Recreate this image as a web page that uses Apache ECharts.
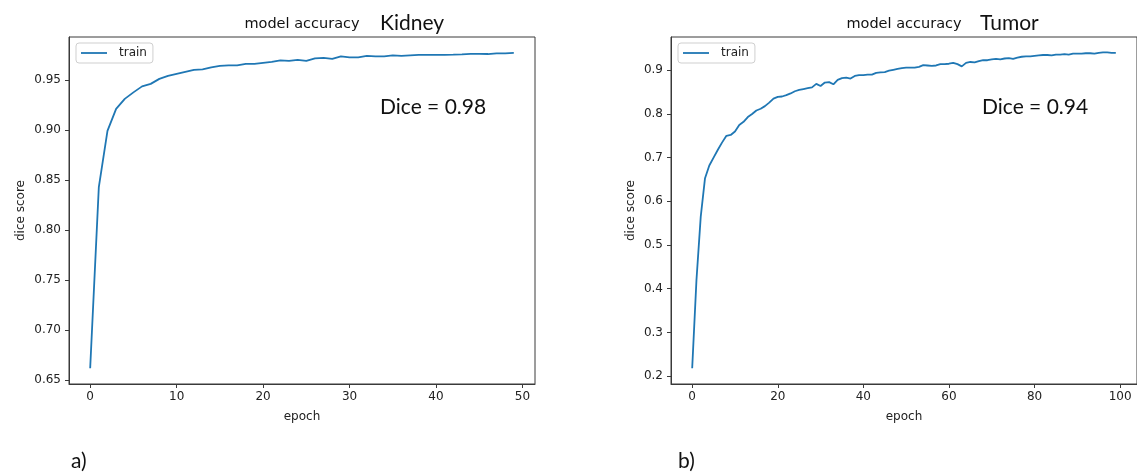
<!DOCTYPE html>
<html>
<head>
<meta charset="utf-8">
<script src="https://cdn.jsdelivr.net/npm/echarts@6/dist/echarts.min.js"></script>
<style>
html,body{margin:0;padding:0;background:#fff;}
#c{width:1137px;height:472px;}
</style>
</head>
<body>
<div id="c"></div>
<script>
// Kidney training dice score per epoch (0..49)
const kidneyEpochs = [0,1,2,3,4,5,6,7,8,9,10,11,12,13,14,15,16,17,18,19,20,21,22,23,24,25,26,27,28,29,30,31,32,33,34,35,36,37,38,39,40,41,42,43,44,45,46,47,48,49];
const kidneyDice = [0.662,0.843,0.899,0.921,0.931,0.9375,0.9435,0.946,0.951,0.954,0.956,0.958,0.960,0.9605,0.9625,0.964,0.9645,0.9645,0.966,0.966,0.967,0.968,0.9695,0.969,0.970,0.969,0.9715,0.972,0.971,0.9735,0.9725,0.9725,0.974,0.9735,0.9735,0.9745,0.974,0.9745,0.975,0.975,0.975,0.975,0.9752,0.9755,0.976,0.976,0.9758,0.9765,0.9765,0.977];

// Tumor training dice score per epoch (0..99)
const tumorEpochs = Array.from({length:100},(_,i)=>i);
const tumorDice = [0.218,0.42,0.565,0.653,0.682,0.700,0.718,0.735,0.750,0.752,
0.760,0.775,0.782,0.793,0.800,0.808,0.812,0.818,0.826,0.835,
0.839,0.840,0.843,0.847,0.852,0.855,0.857,0.859,0.861,0.869,
0.864,0.872,0.873,0.868,0.878,0.882,0.883,0.881,0.887,0.889,
0.889,0.890,0.890,0.894,0.895,0.896,0.899,0.901,0.903,0.905,
0.906,0.906,0.906,0.908,0.912,0.911,0.910,0.911,0.914,0.914,
0.915,0.917,0.914,0.909,0.917,0.919,0.918,0.921,0.923,0.923,
0.925,0.926,0.925,0.927,0.928,0.926,0.929,0.931,0.932,0.932,
0.933,0.934,0.935,0.935,0.934,0.936,0.936,0.937,0.936,0.938,
0.938,0.938,0.939,0.939,0.938,0.940,0.941,0.941,0.940,0.940];

const kidneyXTicks = [0,10,20,30,40,50];
const kidneyYTicks = [0.65,0.70,0.75,0.80,0.85,0.90,0.95];
const tumorXTicks = [0,20,40,60,80,100];
const tumorYTicks = [0.2,0.3,0.4,0.5,0.6,0.7,0.8,0.9];

const panelTitle = 'model accuracy';
const panelNames = ['Kidney','Tumor'];
const diceTexts = ['Dice = 0.98','Dice = 0.94'];
const panelLetters = ['a)','b)'];
const seriesName = 'train';
const xName = 'epoch';
const yName = 'dice score';

const chart = echarts.init(document.getElementById('c'), null, {renderer:'canvas'});
const mpl = 'DejaVu Sans';
const cal = 'Lato';
const txt = '#222';
const frame = '#3a3a3a';

function xAxisCfg(idx, min, max, ticks){
  return {
    type:'value', gridIndex:idx, min:min, max:max,
    name:xName, nameLocation:'middle', nameGap:27,
    nameTextStyle:{fontFamily:mpl,fontSize:12,color:txt},
    axisLine:{show:true,onZero:false,lineStyle:{color:frame,width:1}},
    axisTick:{show:true,inside:false,length:4,lineStyle:{color:frame},customValues:ticks},
    axisLabel:{show:true,margin:7,fontFamily:mpl,fontSize:12,color:txt,customValues:ticks,
      formatter:v=>String(Math.round(v))},
    splitLine:{show:false}
  };
}
function yAxisCfg(idx, min, max, ticks, dec, gap){
  return {
    type:'value', gridIndex:idx, min:min, max:max,
    name:yName, nameLocation:'middle', nameGap:gap, nameRotate:90,
    nameTextStyle:{fontFamily:mpl,fontSize:12,color:txt},
    axisLine:{show:true,onZero:false,lineStyle:{color:frame,width:1}},
    axisTick:{show:true,inside:false,length:4,lineStyle:{color:frame},customValues:ticks},
    axisLabel:{show:true,margin:8,fontFamily:mpl,fontSize:12,color:txt,customValues:ticks,
      formatter:v=>v.toFixed(dec)},
    splitLine:{show:false}
  };
}
function legendCfg(left){
  return {
    data:[seriesName], left:left, top:43, orient:'vertical',
    icon:'rect', itemWidth:26, itemHeight:1.8,
    padding:[4,6,4,5],
    borderColor:'#cfcfcf', borderWidth:1, borderRadius:3, backgroundColor:'#fff',
    textStyle:{fontFamily:mpl,fontSize:12,color:txt,padding:[0,0,0,7]},
    selectedMode:false
  };
}
function textEl(x,y,t,font,size,align){
  return {type:'text', x:x, y:y, style:{text:t, fontFamily:font, fontSize:size, fill:'#111',
    textAlign:align||'left', textVerticalAlign:'middle'}, silent:true};
}

const option = {
  backgroundColor:'#fff',
  animation:false,
  grid:[
    {left:69, top:37, width:466, height:347, show:true, borderColor:frame, borderWidth:1, containLabel:false},
    {left:671, top:37, width:466, height:347, show:true, borderColor:frame, borderWidth:1, containLabel:false}
  ],
  xAxis:[ xAxisCfg(0,-2.45,51.45,kidneyXTicks), xAxisCfg(1,-4.95,103.95,tumorXTicks) ],
  yAxis:[ yAxisCfg(0,0.6463,0.9928,kidneyYTicks,2,42), yAxisCfg(1,0.1819,0.9762,tumorYTicks,1,34) ],
  legend:[ legendCfg(76), legendCfg(678) ],
  series:[
    {name:seriesName, type:'line', xAxisIndex:0, yAxisIndex:0, showSymbol:false, symbol:'none',
     lineStyle:{color:'#1f77b4',width:1.8}, itemStyle:{color:'#1f77b4'},
     data:kidneyEpochs.map((e,i)=>[e,kidneyDice[i]])},
    {name:seriesName, type:'line', xAxisIndex:1, yAxisIndex:1, showSymbol:false, symbol:'none',
     lineStyle:{color:'#1f77b4',width:1.8}, itemStyle:{color:'#1f77b4'},
     data:tumorEpochs.map((e,i)=>[e,tumorDice[i]])}
  ],
  graphic:[
    textEl(302,24,panelTitle,mpl,14.5,'center'),
    textEl(380,23,panelNames[0],cal,21,'left'),
    textEl(904,24,panelTitle,mpl,14.5,'center'),
    textEl(980,23,panelNames[1],cal,21,'left'),
    textEl(380,107,diceTexts[0],cal,21,'left'),
    textEl(982,107,diceTexts[1],cal,21,'left'),
    textEl(71,461,panelLetters[0],cal,21,'left'),
    textEl(678,461,panelLetters[1],cal,21,'left')
  ]
};
chart.setOption(option);
</script>
</body>
</html>
